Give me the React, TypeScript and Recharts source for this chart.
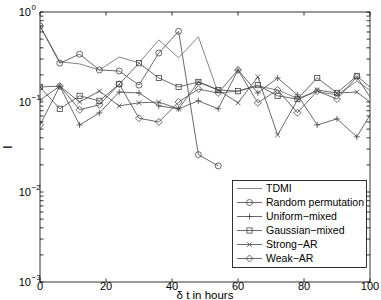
import { Legend, Line, LineChart, ReferenceLine, XAxis, YAxis } from "recharts";

// hours between samples (last point lies past the axis and gets clipped)
const hours = [0, 6, 12, 18, 24, 30, 36, 42, 48, 54, 60, 66, 72, 78, 84, 90, 96, 102];

const tdmi = [0.7, 0.28, 0.265, 0.227, 0.316, 0.272, 0.49, 0.31, 0.53, 0.126, 0.132, 0.15, 0.136, 0.11, 0.13, 0.12, 0.17, 0.12];
const randomPerm = [0.7, 0.27, 0.34, 0.227, 0.221, 0.154, 0.35, 0.61, 0.026, 0.0195, null, null, null, null, null, null, null, null];
const uniformMixed = [0.105, 0.15, 0.0556, 0.0756, 0.129, 0.126, 0.0905, 0.084, 0.103, 0.084, 0.227, 0.126, 0.185, 0.12, 0.0556, 0.065, 0.041, 0.094];
const gaussianMixed = [0.147, 0.084, 0.117, 0.103, 0.158, 0.27, 0.185, 0.147, 0.167, 0.136, 0.132, 0.154, 0.117, 0.108, 0.185, 0.126, 0.195, 0.127];
const strongAR = [0.147, 0.15, 0.1, 0.132, 0.0905, 0.098, 0.1, 0.084, 0.167, 0.136, 0.098, 0.19, 0.043, 0.105, 0.136, 0.126, 0.129, 0.088];
const weakAR = [0.0556, 0.15, 0.082, 0.093, 0.158, 0.066, 0.06, 0.1, 0.139, 0.126, 0.227, 0.098, 0.136, 0.076, 0.132, 0.108, 0.19, 0.088];

const xTicks = [0, 20, 40, 60, 80, 100];
const yDecades = [0.001, 0.01, 0.1, 1];
const yDecadeExp = ["\u22123", "\u22122", "\u22121", "0"];
const minorSteps = [2, 3, 4, 5, 6, 7, 8, 9];
const yTicks = [...yDecades, ...yDecades.slice(0, 3).flatMap((d) => minorSteps.map((m) => m * d))];

const series = [
  { key: "tdmi", name: "TDMI", values: tdmi, marker: "none", color: "#666" },
  { key: "rp", name: "Random permutation", values: randomPerm, marker: "circle", color: "#444" },
  { key: "um", name: "Uniform\u2212mixed", values: uniformMixed, marker: "plus", color: "#444" },
  { key: "gm", name: "Gaussian\u2212mixed", values: gaussianMixed, marker: "square", color: "#444" },
  { key: "sar", name: "Strong\u2212AR", values: strongAR, marker: "cross", color: "#444" },
  { key: "war", name: "Weak\u2212AR", values: weakAR, marker: "diamond", color: "#444" },
];

const data = hours.map((h, i) => {
  const row: Record<string, number | null> = { h };
  series.forEach((s) => (row[s.key] = s.values[i]));
  return row;
});

const W = 381;
const H = 300;
const PLOT = { left: 40, right: 370, top: 12, bottom: 282 };
const FONT = "'Liberation Sans', Arial, sans-serif";
const TICK = 3.5;

function Marker({ kind, cx, cy, color }: { kind: string; cx: number; cy: number; color: string }) {
  const p = { fill: "none", stroke: color, strokeWidth: 0.8 };
  if (kind === "circle") return <circle cx={cx} cy={cy} r={3} {...p} />;
  if (kind === "square") return <rect x={cx - 2.6} y={cy - 2.6} width={5.2} height={5.2} {...p} />;
  if (kind === "plus") return <path d={`M${cx - 3},${cy}H${cx + 3}M${cx},${cy - 3}V${cy + 3}`} {...p} />;
  if (kind === "cross") return <path d={`M${cx - 2.4},${cy - 2.4}L${cx + 2.4},${cy + 2.4}M${cx - 2.4},${cy + 2.4}L${cx + 2.4},${cy - 2.4}`} {...p} />;
  if (kind === "diamond") return <path d={`M${cx},${cy - 3.5}L${cx + 3.5},${cy}L${cx},${cy + 3.5}L${cx - 3.5},${cy}Z`} {...p} />;
  return null;
}

const makeDot = (kind: string, color: string) => (props: any) => {
  const { cx, cy, index } = props;
  if (kind === "none" || cx == null || cy == null || props.value == null) return <g key={`${kind}-${index}`} />;
  return (
    <g key={`${kind}-${index}`}>
      <Marker kind={kind} cx={cx} cy={cy} color={color} />
    </g>
  );
};

const XTick = ({ x, payload }: any) => (
  <g>
    <line x1={x} x2={x} y1={PLOT.bottom} y2={PLOT.bottom - TICK} stroke="#000" strokeWidth={0.8} />
    <line x1={x} x2={x} y1={PLOT.top} y2={PLOT.top + TICK} stroke="#000" strokeWidth={0.8} />
    <text x={x} y={290} textAnchor="middle" fontSize={11} fontFamily={FONT} fill="#000">
      {payload.value}
    </text>
  </g>
);

const YTick = ({ y, payload }: any) => {
  const idx = yDecades.indexOf(payload.value);
  return (
    <g>
      <line x1={PLOT.left} x2={PLOT.left + TICK} y1={y} y2={y} stroke="#000" strokeWidth={0.8} />
      <line x1={PLOT.right - TICK} x2={PLOT.right} y1={y} y2={y} stroke="#000" strokeWidth={0.8} />
      {idx >= 0 && (
        <g fontFamily={FONT} fill="#000">
          <text x={31} y={y + 4} textAnchor="end" fontSize={11}>
            10
          </text>
          <text x={31.5} y={y - 2} fontSize={8}>
            {yDecadeExp[idx]}
          </text>
        </g>
      )}
    </g>
  );
};

const yLabel = () => (
  <text x={12} y={147} transform="rotate(-90 12 147)" textAnchor="middle" fontSize={12} fontFamily={FONT} fill="#000">
    I
  </text>
);

const xLabel = () => (
  <text x={205} y={299} textAnchor="middle" fontSize={11.5} fontFamily={FONT} fill="#000">
    δ t in hours
  </text>
);

const renderLegend = () => (
  <svg width={136} height={88} style={{ display: "block" }}>
    <rect x={0.5} y={0.5} width={134} height={87} fill="#fff" stroke="#000" strokeWidth={0.8} />
    {series.map((s, i) => {
      const cy = 8.5 + i * 14;
      return (
        <g key={s.key}>
          <line x1={5} x2={30} y1={cy} y2={cy} stroke={s.color} strokeWidth={0.8} />
          <Marker kind={s.marker} cx={17.5} cy={cy} color={s.color} />
          <text x={34} y={cy + 3.8} fontSize={10.5} fontFamily={FONT} fill="#000">
            {s.name}
          </text>
        </g>
      );
    })}
  </svg>
);

export default function App() {
  return (
    <div style={{ position: "absolute", left: 0, top: 0, background: "#fff" }}>
      <LineChart width={W} height={H} data={data} margin={{ top: PLOT.top, right: W - PLOT.right, bottom: 0, left: 0 }}>
        <XAxis
          dataKey="h"
          type="number"
          domain={[0, 100]}
          ticks={xTicks}
          allowDataOverflow
          interval={0}
          height={H - PLOT.bottom}
          tickLine={false}
          axisLine={{ stroke: "#000", strokeWidth: 0.8 }}
          tick={<XTick />}
          label={xLabel}
        />
        <YAxis
          type="number"
          scale="log"
          domain={[0.001, 1]}
          ticks={yTicks}
          allowDataOverflow
          interval={0}
          width={PLOT.left}
          tickLine={false}
          axisLine={{ stroke: "#000", strokeWidth: 0.8 }}
          tick={<YTick />}
          label={yLabel}
        />
        <ReferenceLine y={1} stroke="#000" strokeWidth={0.8} />
        <ReferenceLine x={100} stroke="#000" strokeWidth={0.8} />
        {series.map((s) => (
          <Line
            key={s.key}
            dataKey={s.key}
            name={s.name}
            stroke={s.color}
            strokeWidth={0.8}
            dot={makeDot(s.marker, s.color)}
            activeDot={false}
            isAnimationActive={false}
            connectNulls={false}
          />
        ))}
        <Legend
          content={renderLegend}
          layout="horizontal"
          verticalAlign="middle"
          align="center"
          wrapperStyle={{ left: 232, top: 180, width: 136, height: 88 }}
        />
      </LineChart>
    </div>
  );
}
